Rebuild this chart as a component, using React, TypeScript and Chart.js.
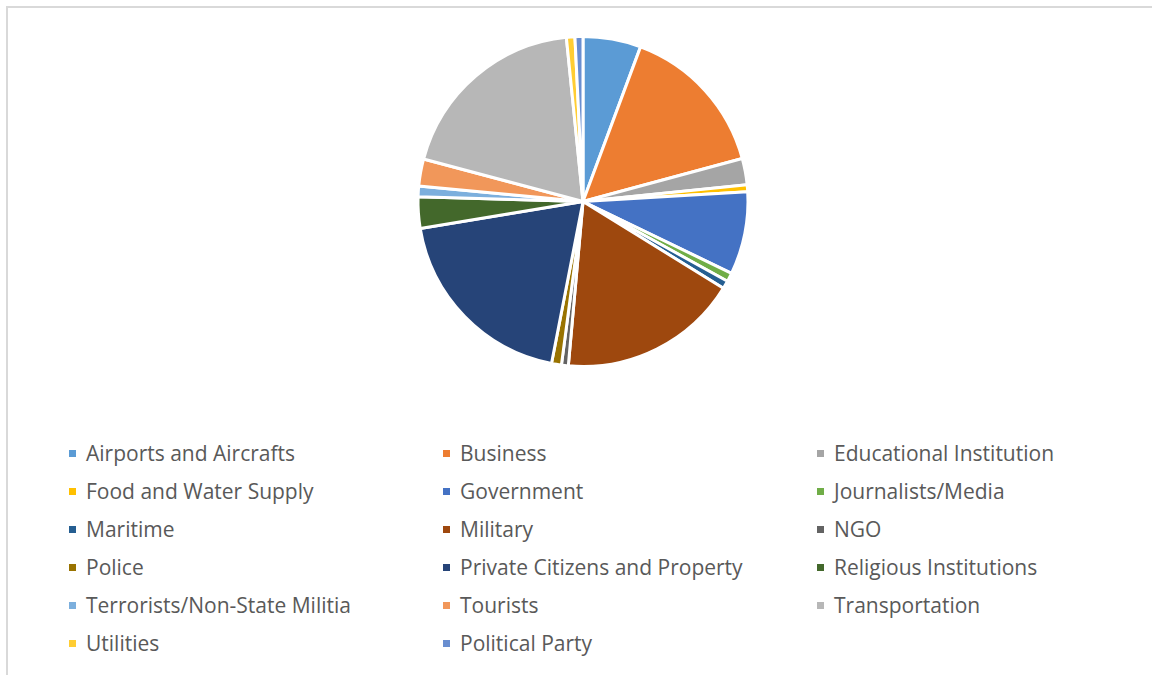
import React, { useEffect, useRef } from "react";
import { Chart, registerables } from "chart.js";

Chart.register(...registerables);

const categories = [
  "Airports and Aircrafts",
  "Business",
  "Educational Institution",
  "Food and Water Supply",
  "Government",
  "Journalists/Media",
  "Maritime",
  "Military",
  "NGO",
  "Police",
  "Private Citizens and Property",
  "Religious Institutions",
  "Terrorists/Non-State Militia",
  "Tourists",
  "Transportation",
  "Utilities",
  "Political Party",
];

const shares = [
  5.67, 15.14, 2.58, 0.67, 8.11, 0.86, 0.78, 17.61, 0.67, 0.97, 19.33, 3.08,
  1.03, 2.64, 19.25, 0.83, 0.78,
];

const colors = [
  "#5B9BD5",
  "#ED7D31",
  "#A5A5A5",
  "#FFC000",
  "#4472C4",
  "#70AD47",
  "#255E91",
  "#9E480E",
  "#636363",
  "#997300",
  "#264478",
  "#43682B",
  "#7CAFDD",
  "#F1975A",
  "#B7B7B7",
  "#FFCD33",
  "#698ED0",
];

export default function App() {
  const canvasRef = useRef<HTMLCanvasElement | null>(null);

  useEffect(() => {
    const ctx = canvasRef.current;
    if (!ctx) return;
    const chart = new Chart(ctx, {
      type: "pie",
      data: {
        labels: categories,
        datasets: [
          {
            data: shares,
            backgroundColor: colors,
            borderColor: "#FFFFFF",
            borderWidth: 3,
          },
        ],
      },
      options: {
        responsive: false,
        maintainAspectRatio: false,
        animation: false,
        layout: { padding: { left: 14, right: 0, top: 35, bottom: 32 } },
        plugins: {
          legend: { display: false },
          tooltip: { enabled: false },
        },
      },
    });
    return () => chart.destroy();
  }, []);

  return (
    <div style={{ position: "absolute", left: 0, top: 0, width: 1152, height: 675, overflow: "hidden", background: "#fff" }}>
      <div
        style={{
          position: "absolute",
          left: 6,
          top: 6,
          width: 1200,
          height: 720,
          border: "2px solid #D9D9D9",
          boxSizing: "border-box",
        }}
      />
      <canvas
        ref={canvasRef}
        width={1152}
        height={400}
        style={{ position: "absolute", left: 0, top: 0, width: 1152, height: 400 }}
      />
      <div
        style={{
          position: "absolute",
          left: 0,
          top: 434,
          width: 1152,
          fontFamily: "'Open Sans', sans-serif",
          fontSize: 21,
          color: "#595959",
        }}
      >
        {categories.map((c, i) => {
          const col = i % 3;
          const row = Math.floor(i / 3);
          return (
            <div
              key={c}
              style={{
                position: "absolute",
                left: 69 + col * 374,
                top: row * 38,
                height: 38,
                display: "flex",
                alignItems: "center",
                whiteSpace: "nowrap",
              }}
            >
              <span
                style={{
                  display: "inline-block",
                  width: 7,
                  height: 7,
                  background: colors[i],
                  marginRight: 10,
                }}
              />
              <span>{c}</span>
            </div>
          );
        })}
      </div>
    </div>
  );
}
